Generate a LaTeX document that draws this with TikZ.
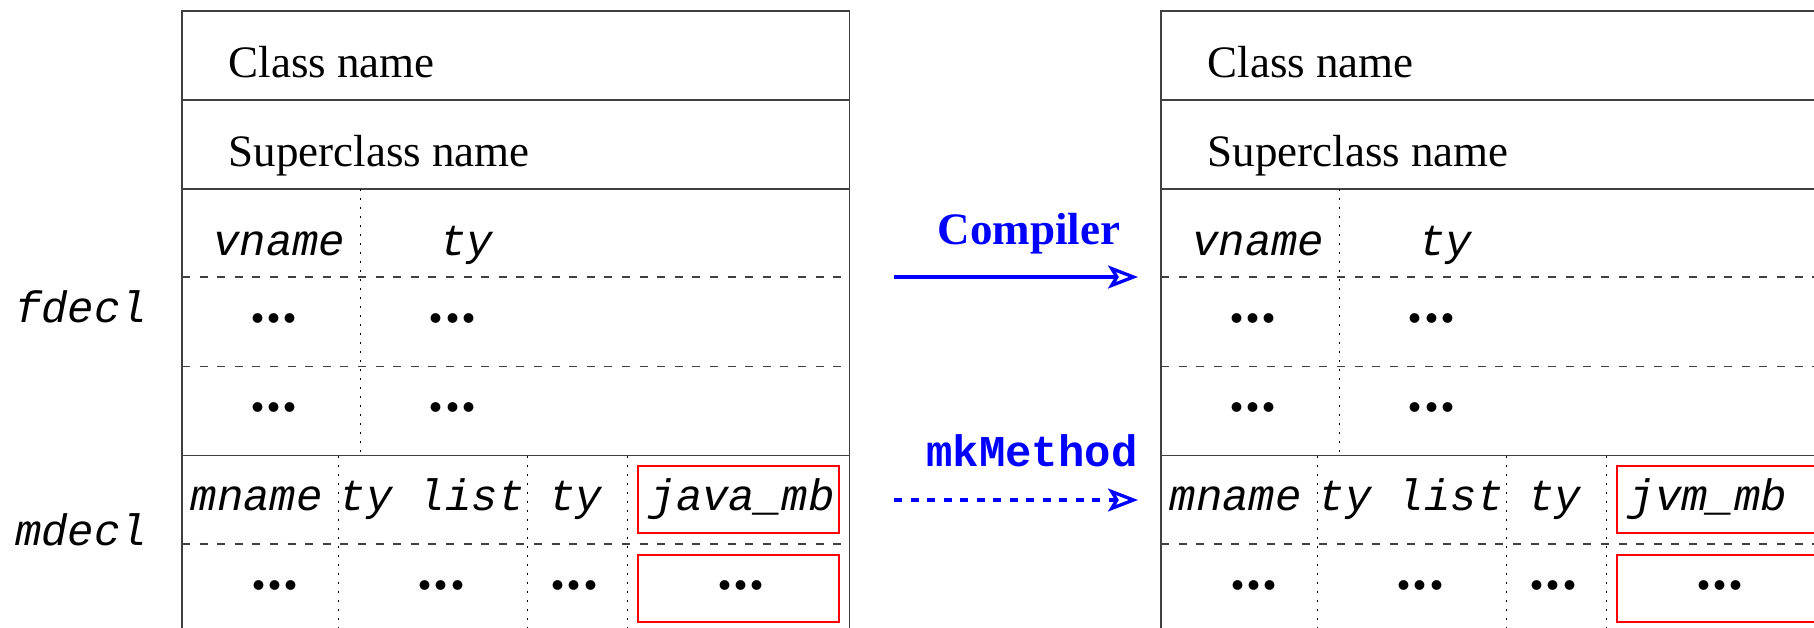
\documentclass[tikz,border=0pt]{standalone}
\usepackage{fontspec}
\setmainfont{Liberation Serif}
\setmonofont{Liberation Mono}
\usetikzlibrary{arrows.meta}
\definecolor{tblgray}{gray}{0.25}
\newcommand\tdots{.\kern1.2pt.\kern1.2pt.}
\tikzset{
 tline/.style={draw=tblgray, line width=1.5pt},
 dline/.style={draw=tblgray, line width=1.3pt, dash pattern=on 8pt off 9.6pt},
 vdot/.style={draw=black, line width=1pt, dash pattern=on 2pt off 7pt},
 redbox/.style={draw=red, line width=2pt},
 serif/.style={font=\fontsize{45}{54}\selectfont, inner sep=0pt, anchor=base west},
 mono/.style={font=\fontsize{44}{53}\selectfont\ttfamily\itshape, inner sep=0pt, anchor=base west},
 ell/.style={font=\fontsize{60}{70}\selectfont\bfseries, inner sep=0pt, anchor=base},
 arr/.style={blue, line width=3.3pt, -{Stealth[open, length=30pt, width=23pt, inset=7pt]}},
 lbl/.style={text=blue, inner sep=0pt, anchor=base},
}
\newcommand\classtab[3]{%
\begin{scope}[xshift=#1pt]
 \draw[tline] (182,11) rectangle (849.5,633);
 \draw[tline] (182,100) -- (849.5,100);
 \draw[tline] (182,189) -- (849.5,189);
 \draw[dline] (182,277) -- (849.5,277);
 \draw[dline] (182,366.5) -- (849.5,366.5);
 \draw[tline] (182,455.5) -- (849.5,455.5);
 \draw[dline] (182,544) -- (849.5,544);
 \draw[vdot] (360.5,189) -- (360.5,455.5);
 \draw[vdot] (338.5,455.5) -- (338.5,633);
 \draw[vdot] (527,455.5) -- (527,633);
 \draw[vdot] (627.5,455.5) -- (627.5,633);
 \draw[redbox] (638,466) rectangle (838.5,533);
 \draw[redbox] (638,555) rectangle (838.5,622);
 \node[serif] (#2cls) at (228.5,78) {Class name};
 \node[serif] (#2sup) at (228.5,166.7) {Superclass name};
 \node[mono] (#2vn) at (213,256) {vname};
 \node[mono] (#2vt) at (440,256) {ty};
 \node[ell] (#2d1) at (274.3,322.5) {\tdots};
 \node[ell] (#2d2) at (452.6,322.5) {\tdots};
 \node[ell] (#2d3) at (274.3,411.5) {\tdots};
 \node[ell] (#2d4) at (452.6,411.5) {\tdots};
 \node[mono] (#2mn) at (190.5,510.7) {mname};
 \node[mono] (#2tl) at (339.5,510.7) {ty list};
 \node[mono] (#2mt) at (549,510.7) {ty};
 \node[mono] (#2mb) at (649.5,510.7) {#3};
 \node[ell] (#2e1) at (275,589.2) {\tdots};
 \node[ell] (#2e2) at (441.5,589.2) {\tdots};
 \node[ell] (#2e3) at (574.5,589.2) {\tdots};
 \node[ell] (#2e4) at (741,589.2) {\tdots};
\end{scope}}
\begin{document}
\begin{tikzpicture}[x=1pt,y=-1pt]
\clip (0,0) rectangle (1814,628);
\fill[white] (0,0) rectangle (1814,628);
\classtab{0}{a}{java\_mb}
\classtab{979}{b}{jvm\_mb}
\node[mono] (fd) at (15,322) {fdecl};
\node[mono] (md) at (15,545) {mdecl};
\coordinate (c1s) at (894,277);
\coordinate (c1e) at (1138,277);
\coordinate (c2s) at (894,500);
\coordinate (c2e) at (1138,500);
\draw[arr] (c1s) -- (c1e);
\draw[arr, dash pattern=on 8pt off 8.5pt] (c2s) -- (c2e);
\node[lbl, font=\fontsize{45}{54}\selectfont\bfseries] (comp) at (1029,245) {Compiler};
\node[lbl, font=\fontsize{44}{53}\selectfont\ttfamily\bfseries] (mk) at (1032,466) {mkMethod};
\end{tikzpicture}
\end{document}
